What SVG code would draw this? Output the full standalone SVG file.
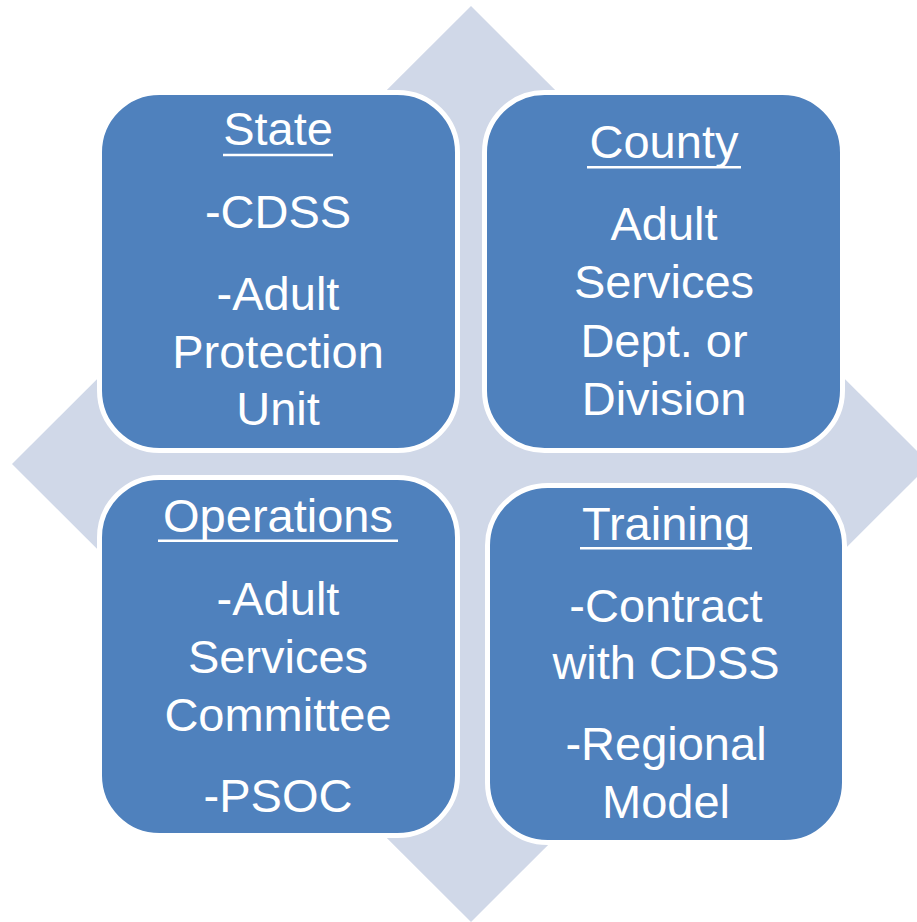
<svg xmlns="http://www.w3.org/2000/svg" width="917" height="922" viewBox="0 0 917 922">
<style>
.bg{fill:#D0D8E8;}
.box{fill:#4F81BD;stroke:#FFFFFF;stroke-width:5;}
.t{fill:#FFFFFF;font-family:"Liberation Sans",Arial,sans-serif;font-size:47px;text-anchor:middle;}
.u{stroke:#FFFFFF;stroke-width:2.6;}
</style>
<rect width="917" height="922" fill="#FFFFFF"/>
<polygon class="bg" points="471,6 930,464 471,922 12,464"/>
<g id="state">
<rect class="box" x="99.5" y="92.5" width="358" height="358" rx="60"/>
<text class="t" x="278" y="145">State</text>
<line class="u" x1="223" y1="155" x2="333" y2="155"/>
<text class="t" x="278" y="228">-CDSS</text>
<text class="t" x="278" y="310">-Adult</text>
<text class="t" x="278" y="368">Protection</text>
<text class="t" x="278" y="425">Unit</text>
</g>
<g id="county">
<rect class="box" x="484.5" y="92.5" width="358" height="358" rx="60"/>
<text class="t" x="664" y="158">County</text>
<line class="u" x1="587" y1="167.3" x2="741" y2="167.3"/>
<text class="t" x="664" y="240">Adult</text>
<text class="t" x="664" y="298">Services</text>
<text class="t" x="664" y="357">Dept. or</text>
<text class="t" x="664" y="415">Division</text>
</g>
<g id="operations">
<rect class="box" x="99.5" y="477.5" width="358" height="358" rx="60"/>
<text class="t" x="278" y="532">Operations</text>
<line class="u" x1="158" y1="540.7" x2="398" y2="540.7"/>
<text class="t" x="278" y="615">-Adult</text>
<text class="t" x="278" y="673">Services</text>
<text class="t" x="278" y="731">Committee</text>
<text class="t" x="278" y="812">-PSOC</text>
</g>
<g id="training">
<rect class="box" x="487.5" y="485.5" width="357" height="357" rx="60"/>
<text class="t" x="666" y="540">Training</text>
<line class="u" x1="580" y1="548.3" x2="752" y2="548.3"/>
<text class="t" x="666" y="622">-Contract</text>
<text class="t" x="666" y="679">with CDSS</text>
<text class="t" x="666" y="760">-Regional</text>
<text class="t" x="666" y="818">Model</text>
</g>
<g id="connectors"></g>
</svg>
